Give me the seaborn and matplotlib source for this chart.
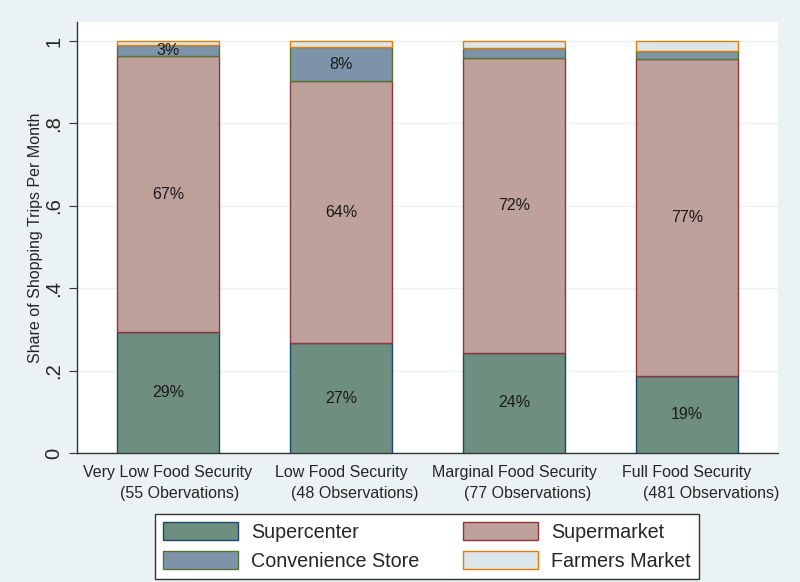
import matplotlib
matplotlib.use("Agg")
import matplotlib.pyplot as plt
import pandas as pd
import seaborn as sns
from matplotlib.patches import Patch

# data
groups = ["Very Low Food Security", "Low Food Security",
          "Marginal Food Security", "Full Food Security"]
obs_labels = ["(55 Obervations)", "(48 Observations)",
              "(77 Observations)", "(481 Observations)"]
stores = ["Supercenter", "Supermarket", "Convenience Store", "Farmers Market"]
supercenter = [0.294, 0.266, 0.243, 0.187]
supermarket = [0.669, 0.636, 0.716, 0.770]
convenience = [0.026, 0.084, 0.024, 0.019]
farmers = [0.011, 0.014, 0.017, 0.024]
# which segments carry a percent label
labelled = {"Supercenter": [1, 1, 1, 1], "Supermarket": [1, 1, 1, 1],
            "Convenience Store": [1, 1, 0, 0], "Farmers Market": [0, 0, 0, 0]}

fills = {"Supercenter": "#6e8f80", "Supermarket": "#bea19b",
         "Convenience Store": "#7c93a9", "Farmers Market": "#dae6ec"}
edges = {"Supercenter": "#1a476f", "Supermarket": "#90353b",
         "Convenience Store": "#55752f", "Farmers Market": "#e37e00"}
BG = "#eaf2f3"

sns.set_theme(style="white")
plt.rcParams["font.family"] = ["Liberation Sans", "DejaVu Sans"]

df = pd.DataFrame({"group": groups, "Supercenter": supercenter,
                   "Supermarket": supermarket, "Convenience Store": convenience,
                   "Farmers Market": farmers})
base = df[stores].cumsum(axis=1) - df[stores]

fig = plt.figure(figsize=(8, 5.82), dpi=100, facecolor=BG)
ax = fig.add_axes([77 / 800, 1 - 453 / 582, (778 - 77) / 800, (453 - 22) / 582])
ax.set_facecolor("white")

# stacked bars: each layer sits on the sum of the ones below
for s in stores:
    sns.barplot(data=df, x="group", y=s, order=groups, color=fills[s],
                edgecolor=edges[s], linewidth=1.0, width=0.595,
                saturation=1, ax=ax, zorder=3, bottom=base[s].to_numpy())

# percent labels in segment centres
for s in stores:
    for i, g in enumerate(groups):
        if not labelled[s][i]:
            continue
        val = df.loc[i, s]
        ax.text(i, base.loc[i, s] + val / 2, f"{round(val * 100):.0f}%",
                ha="center", va="center", fontsize=11.5, color="#1a1a1a", zorder=5)

ax.set_xlim(-0.526, 3.526)
ax.set_ylim(0, 1.046)
ax.set_yticks([0, 0.2, 0.4, 0.6, 0.8, 1.0])
ax.set_yticklabels(["0", ".2", ".4", ".6", ".8", "1"], rotation=90,
                   va="center", fontsize=14.5)
ax.yaxis.grid(True, color=BG, linewidth=1.0, zorder=0)
ax.set_axisbelow(True)
ax.set_ylabel("Share of Shopping Trips Per Month", fontsize=11.5, labelpad=1)
ax.set_xlabel("")
ax.set_xticks(range(len(groups)))
ax.set_xticklabels(groups, fontsize=11.5)
ax.tick_params(axis="x", length=0, pad=9)
ax.tick_params(axis="y", length=6, width=0.8, color="#333333", left=True, pad=4)
for side in ["top", "right"]:
    ax.spines[side].set_visible(False)
for side in ["left", "bottom"]:
    ax.spines[side].set_color("#333333")
    ax.spines[side].set_linewidth(1.0)

# second line of category labels, shifted right like the original
shifts = [12, 14, 14, 24]
for i, (lab, dx) in enumerate(zip(obs_labels, shifts)):
    ax.annotate(lab, xy=(i, 0), xycoords=("data", "axes fraction"),
                xytext=(dx * 0.72, -23.5), textcoords="offset points",
                ha="center", va="top", fontsize=11.5)

handles = [Patch(facecolor=fills[s], edgecolor=edges[s], linewidth=1.0, label=s)
           for s in ["Supercenter", "Convenience Store", "Supermarket", "Farmers Market"]]
leg = fig.legend(handles=handles, ncol=2, loc="center",
                 bbox_to_anchor=(427 / 800, 1 - 546.5 / 582), fontsize=14.2,
                 frameon=True, fancybox=False, edgecolor="#333333",
                 facecolor="white", framealpha=1,
                 handlelength=3.8, handleheight=1.0, handletextpad=0.66,
                 columnspacing=2.2, labelspacing=0.45, borderpad=0.45,
                 borderaxespad=0)
leg.get_frame().set_linewidth(1.0)

fig.savefig("out.png", dpi=100, facecolor=BG)
